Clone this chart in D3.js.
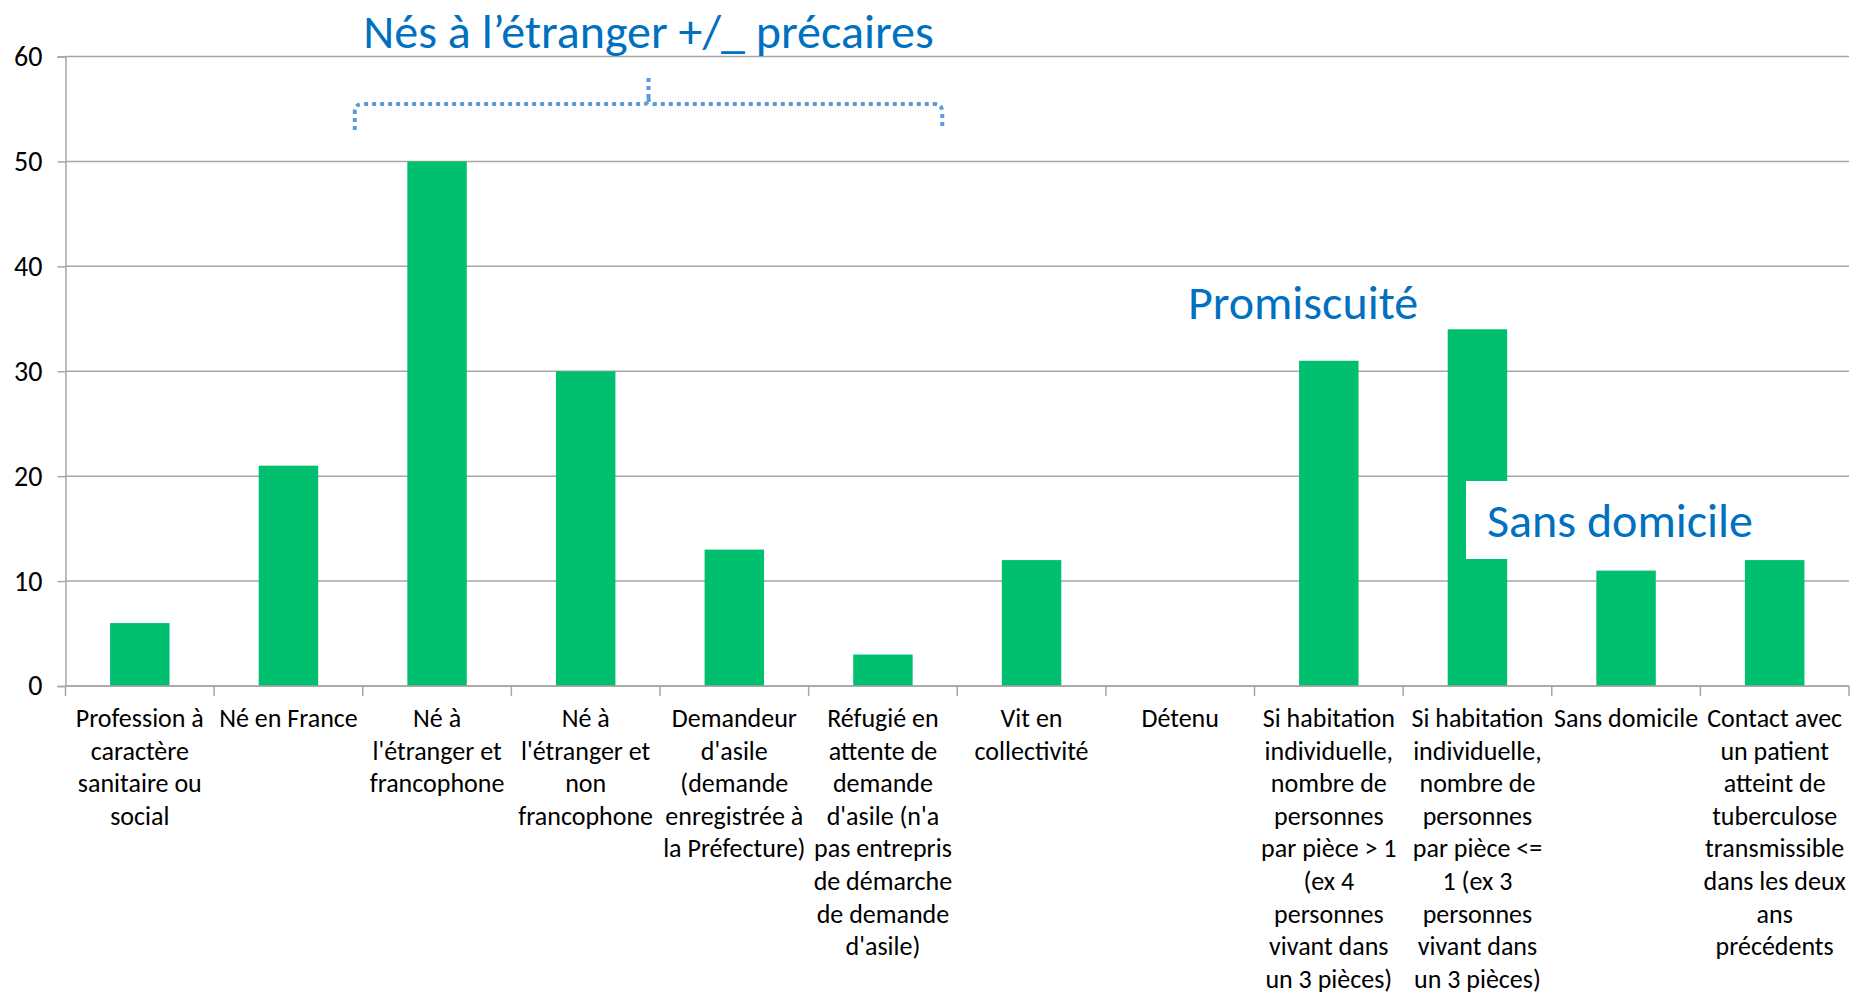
<!DOCTYPE html>
<html><head><meta charset="utf-8">
<script src="https://cdn.jsdelivr.net/npm/d3@7"></script>
<style>
html,body{margin:0;padding:0;background:#fff;}
svg{display:block;font-family:Carlito,Calibri,Lato,"Open Sans",sans-serif;}
</style></head>
<body><svg id="c" width="1869" height="994"></svg>
<script>
const categories = [
  "Profession à\ncaractère\nsanitaire ou\nsocial",
  "Né en France",
  "Né à\nl'étranger et\nfrancophone",
  "Né à\nl'étranger et\nnon\nfrancophone",
  "Demandeur\nd'asile\n(demande\nenregistrée à\nla Préfecture)",
  "Réfugié en\nattente de\ndemande\nd'asile (n'a\npas entrepris\nde démarche\nde demande\nd'asile)",
  "Vit en\ncollectivité",
  "Détenu",
  "Si habitation\nindividuelle,\nnombre de\npersonnes\npar pièce > 1\n(ex 4\npersonnes\nvivant dans\nun 3 pièces)",
  "Si habitation\nindividuelle,\nnombre de\npersonnes\npar pièce <=\n1 (ex 3\npersonnes\nvivant dans\nun 3 pièces)",
  "Sans domicile",
  "Contact avec\nun patient\natteint de\ntuberculose\ntransmissible\ndans les deux\nans\nprécédents"
];
const values = [6, 21, 50, 30, 13, 3, 12, 0, 31, 34, 11, 12];
const yTicks = [0, 10, 20, 30, 40, 50, 60];
const annotations = {
  title: "Nés à l’étranger +/_ précaires",
  promiscuite: "Promiscuité",
  sansDomicile: "Sans domicile"
};

const svg = d3.select("#c");
const L = 65.5, R = 1849, T = 56.5, B = 686;
const x = d3.scaleBand().domain(categories).range([L, R]).paddingInner(0.6).paddingOuter(0.3);
const xb = d3.scaleBand().domain(categories).range([L, R]).padding(0);
const y = d3.scaleLinear().domain([0, 60]).range([B, T]);
const grey = "#a6a6a6";

// gridlines
svg.append("g").selectAll("line").data(yTicks).join("line")
  .attr("x1", L).attr("x2", R).attr("y1", d => y(d)).attr("y2", d => y(d))
  .attr("stroke", grey).attr("stroke-width", 1.5);

// y axis
const ya = svg.append("g").attr("transform", `translate(${L},0)`)
  .call(d3.axisLeft(y).tickValues(yTicks).tickSize(8).tickPadding(15));
ya.select(".domain").attr("stroke", grey).attr("stroke-width", 1.5);
ya.selectAll(".tick line").attr("stroke", grey).attr("stroke-width", 1.5);
ya.selectAll(".tick text").attr("font-size", 28).attr("fill", "#000")
  .attr("font-family", "Carlito,Calibri,Lato,sans-serif");

// bars
svg.append("g").selectAll("rect").data(values).join("rect")
  .attr("x", (d, i) => x(categories[i]))
  .attr("width", x.bandwidth())
  .attr("y", d => y(d))
  .attr("height", d => y(0) - y(d))
  .attr("fill", "#00bf6f");

// x axis line and ticks at band boundaries
svg.append("line").attr("x1", L).attr("x2", R).attr("y1", B).attr("y2", B)
  .attr("stroke", grey).attr("stroke-width", 1.5);
const bounds = categories.map(c => xb(c)).concat([R]);
svg.append("g").selectAll("line").data(bounds).join("line")
  .attr("x1", d => d).attr("x2", d => d).attr("y1", B).attr("y2", B + 10)
  .attr("stroke", grey).attr("stroke-width", 1.5);

// x labels
const lh = 32.6;
const lab = svg.append("g").attr("font-size", 26).attr("fill", "#000").attr("text-anchor", "middle");
categories.forEach(c => {
  const t = lab.append("text").attr("x", xb(c) + xb.bandwidth() / 2).attr("y", 727);
  c.split("\n").forEach((ln, j) => {
    t.append("tspan").attr("x", xb(c) + xb.bandwidth() / 2).attr("dy", j === 0 ? 0 : lh).text(ln);
  });
});

// brace
const bl = xb(categories[2]) - 8, br = xb(categories[6]) - 15, bm = (bl + br) / 2;
const by = 104, bbot = 130, r = 8;
svg.append("path")
  .attr("d", `M${bl},${bbot} L${bl},${by + r} Q${bl},${by} ${bl + r},${by} L${bm - 5},${by} Q${bm},${by} ${bm},${by - 6} L${bm},${75} M${bm},${by - 6} Q${bm},${by} ${bm + 5},${by} L${br - r},${by} Q${br},${by} ${br},${by + r} L${br},${bbot}`)
  .attr("fill", "none").attr("stroke", "#5b9bd5").attr("stroke-width", 4)
  .attr("stroke-dasharray", "4 4");

const blue = "#0070c0";
svg.append("text").attr("x", bm).attr("y", 47.5).attr("text-anchor", "middle")
  .attr("font-size", 48).attr("fill", blue).text(annotations.title);
svg.append("text").attr("x", 1303).attr("y", 319).attr("text-anchor", "middle")
  .attr("font-size", 48).attr("fill", blue).text(annotations.promiscuite);
svg.append("rect").attr("x", 1466).attr("y", 481).attr("width", 290).attr("height", 78).attr("fill", "#fff");
svg.append("text").attr("x", 1620).attr("y", 537).attr("text-anchor", "middle")
  .attr("font-size", 48).attr("fill", blue).text(annotations.sansDomicile);
</script></body></html>
